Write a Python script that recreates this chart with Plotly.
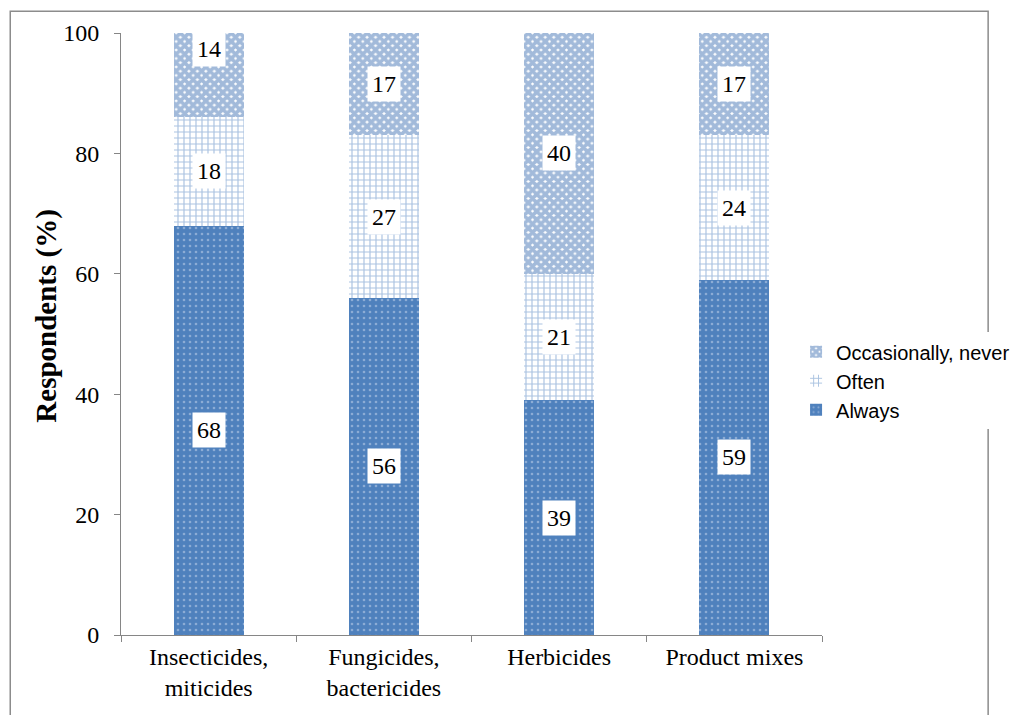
import plotly.graph_objects as go

categories = ["Insecticides,<br>miticides", "Fungicides,<br>bactericides", "Herbicides", "Product mixes"]
always = [68, 56, 39, 59]
often = [18, 27, 21, 24]
occasionally = [14, 17, 40, 17]

blue = "#4f81bd"
serif = "Liberation Serif, Times New Roman, serif"

fig = go.Figure()
fig.add_trace(go.Bar(
    x=categories, y=always, name="Always",
    marker=dict(color=blue, line_width=0,
                pattern=dict(shape=".", bgcolor=blue, fgcolor="#c9d8ee", size=6, solidity=0.15)),
))
fig.add_trace(go.Bar(
    x=categories, y=often, name="Often",
    marker=dict(color="white", line_width=0,
                pattern=dict(shape="+", bgcolor="white", fgcolor="#5585c2", size=6, solidity=0.35)),
))
fig.add_trace(go.Bar(
    x=categories, y=occasionally, name="Occasionally, never",
    marker=dict(color=blue, line_width=0,
                pattern=dict(shape="x", bgcolor="white", fgcolor="#4575b5", size=6, solidity=0.85)),
))

# value labels in white boxes, centred on each segment
for i, c in enumerate(categories):
    base = 0
    for series in (always, often, occasionally):
        v = series[i]
        shift = 26 if (series is occasionally and i == 0) else 0
        fig.add_annotation(x=c, y=base + v / 2, text=str(v), showarrow=False,
                           yshift=shift, bgcolor="white", borderpad=4,
                           font=dict(family=serif, size=24, color="black"))
        base += v

# y axis title, sits a little above the middle like in the original
fig.add_annotation(xref="paper", yref="paper", x=-0.106, y=0.53,
                   xanchor="center", yanchor="middle",
                   text="<b>Respondents (%)</b>", textangle=-90, showarrow=False,
                   font=dict(family=serif, size=29, color="black"))

# outer frame around the chart
fig.add_shape(type="rect", xref="paper", yref="paper",
              x0=-0.158, x1=1.237, y0=-0.25, y1=1.036,
              line=dict(color="#8c8c8c", width=1.5), layer="below")

fig.update_layout(
    barmode="stack",
    bargap=0.6,
    width=1026, height=715,
    margin=dict(l=113, r=212, t=17, b=88),
    plot_bgcolor="white", paper_bgcolor="white",
    legend=dict(x=0.963, y=0.503, xanchor="left", yanchor="top",
                traceorder="reversed", bgcolor="white",
                font=dict(family="Liberation Sans, Arial, sans-serif", size=20, color="black"),
                itemwidth=30, tracegroupgap=0),
    showlegend=True,
)
fig.update_yaxes(range=[0, 100], dtick=20, showgrid=False, zeroline=False,
                 showline=True, linecolor="#868686", linewidth=1,
                 ticks="outside", ticklen=6, tickcolor="#868686", ticklabelstandoff=10,
                 tickfont=dict(family=serif, size=24, color="black"))
fig.update_xaxes(showgrid=False, showline=True, linecolor="#868686", linewidth=1,
                 ticks="outside", ticklen=6, tickcolor="#868686", tickson="boundaries",
                 tickfont=dict(family=serif, size=24, color="black"))

fig.write_html("out.html")
